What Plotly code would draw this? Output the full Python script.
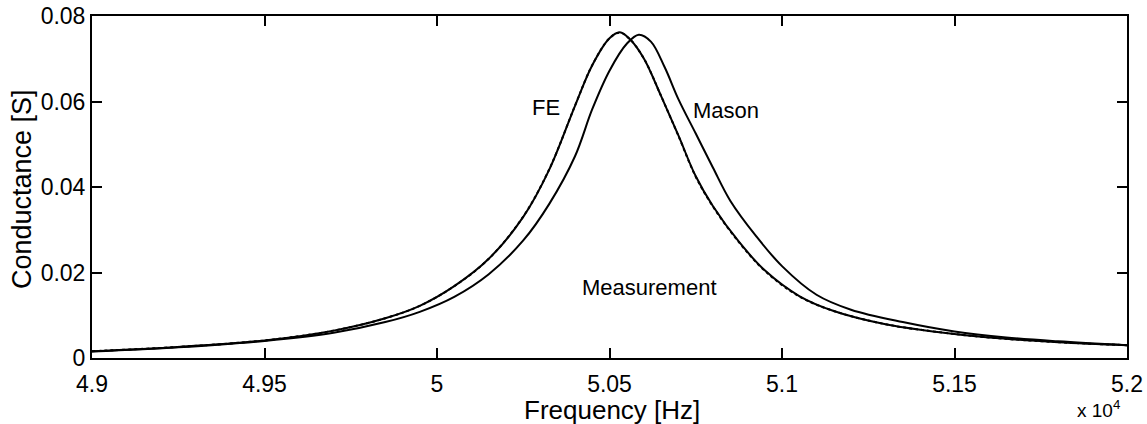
import plotly.graph_objects as go

# Frequency [Hz] and conductance [S]
fe_freq = [49000, 49250, 49500, 49700, 49850, 49950, 50050, 50150, 50250, 50325,
           50400, 50450, 50500, 50530, 50560, 50600, 50650, 50700, 50750, 50800,
           50875, 50950, 51050, 51150, 51300, 51450, 51600, 51800, 52000]
fe_g = [0.0016, 0.0026, 0.0041, 0.0064, 0.0093, 0.0122, 0.0168, 0.0232, 0.0330, 0.0440,
        0.0590, 0.0685, 0.0748, 0.0762, 0.0745, 0.0700, 0.0612, 0.0520, 0.0425, 0.0355,
        0.0272, 0.0205, 0.0145, 0.0110, 0.0079, 0.0061, 0.0048, 0.0037, 0.0030]

meas_freq = [49000, 49250, 49500, 49700, 49850, 49950, 50050, 50150, 50250, 50325,
             50400, 50450, 50500, 50530, 50560, 50600, 50650, 50700, 50750, 50800,
             50875, 50950, 51050, 51150, 51300, 51450, 51600, 51800, 52000]
meas_g = [0.0016, 0.0026, 0.0041, 0.0064, 0.0093, 0.0122, 0.0168, 0.0232, 0.0331, 0.0441,
          0.0590, 0.0685, 0.0748, 0.0761, 0.0745, 0.0700, 0.0612, 0.0519, 0.0424, 0.0354,
          0.0271, 0.0204, 0.0144, 0.0110, 0.0079, 0.0061, 0.0048, 0.0037, 0.0030]

mason_freq = [49000, 49250, 49500, 49700, 49850, 49950, 50050, 50150, 50250, 50325,
              50400, 50450, 50500, 50550, 50585, 50620, 50660, 50700, 50750, 50800,
              50850, 50925, 51000, 51100, 51200, 51350, 51500, 51650, 51800, 52000]
mason_g = [0.0015, 0.0025, 0.0040, 0.0059, 0.0084, 0.0108, 0.0143, 0.0196, 0.0275, 0.0360,
           0.0472, 0.0582, 0.0672, 0.0735, 0.0756, 0.0740, 0.0680, 0.0605, 0.0525, 0.0445,
           0.0368, 0.0285, 0.0215, 0.0148, 0.0113, 0.0084, 0.0062, 0.0048, 0.0039, 0.0030]

x_tickvals = [49000, 49500, 50000, 50500, 51000, 51500, 52000]
x_ticktext = ["4.9", "4.95", "5", "5.05", "5.1", "5.15", "5.2"]
y_tickvals = [0, 0.02, 0.04, 0.06, 0.08]
y_ticktext = ["0", "0.02", "0.04", "0.06", "0.08"]

FONT = "Liberation Sans, Arial, Helvetica, sans-serif"
LINE = dict(color="black", width=2, shape="spline", smoothing=1.0)

fig = go.Figure()
fig.add_trace(go.Scatter(x=mason_freq, y=mason_g, mode="lines", name="Mason", line=LINE))
fig.add_trace(go.Scatter(x=fe_freq, y=fe_g, mode="lines", name="FE", line=LINE))
fig.add_trace(go.Scatter(x=meas_freq, y=meas_g, mode="lines", name="Measurement",
                         line=dict(LINE, dash="dot")))

txt = dict(size=22, color="black", family=FONT)
fig.add_annotation(x=50316, y=0.0585, text="FE", showarrow=False, font=txt)
fig.add_annotation(x=50838, y=0.0580, text="Mason", showarrow=False, font=txt)
fig.add_annotation(x=50615, y=0.0164, text="Measurement", showarrow=False, font=txt)

# axis titles and exponent label
fig.add_annotation(x=0.502, y=-0.152, xref="paper", yref="paper", text="Frequency [Hz]",
                   showarrow=False, xanchor="center", yanchor="middle",
                   font=dict(size=26, color="black", family=FONT))
fig.add_annotation(x=-0.0676, y=0.494, xref="paper", yref="paper", text="Conductance [S]",
                   showarrow=False, xanchor="center", yanchor="middle", textangle=-90,
                   font=dict(size=27, color="black", family=FONT))
fig.add_annotation(x=0.995, y=-0.19, xref="paper", yref="paper", xanchor="right", yanchor="bottom",
                   text="x 10<sup>4</sup>", showarrow=False,
                   font=dict(size=19, color="black", family=FONT))

fig.update_layout(
    width=1147, height=424,
    margin=dict(l=92, r=20, t=16, b=66),
    plot_bgcolor="white", paper_bgcolor="white",
    showlegend=False,
    font=dict(family=FONT, color="black", size=23),
)
fig.update_xaxes(range=[49000, 52000], tickvals=x_tickvals, ticktext=x_ticktext,
                 ticks="inside", ticklen=10, tickwidth=1.5, tickcolor="black",
                 showline=True, linecolor="black", linewidth=2, mirror="ticks",
                 showgrid=False, zeroline=False, automargin=False, ticklabelstandoff=4,
                 ticklabeloverflow="allow", tickfont=dict(size=23, family=FONT))
fig.update_yaxes(range=[0, 0.08], tickvals=y_tickvals, ticktext=y_ticktext,
                 ticks="inside", ticklen=10, tickwidth=1.5, tickcolor="black",
                 showline=True, linecolor="black", linewidth=2, mirror="ticks",
                 showgrid=False, zeroline=False, automargin=False, ticklabelstandoff=0,
                 ticklabeloverflow="allow", tickfont=dict(size=23, family=FONT))

# remove the default 8 px page margin so the figure sits at the window's corner
fig.write_html("out.html", config={"displayModeBar": False},
               post_script="document.body.style.margin='0';")
